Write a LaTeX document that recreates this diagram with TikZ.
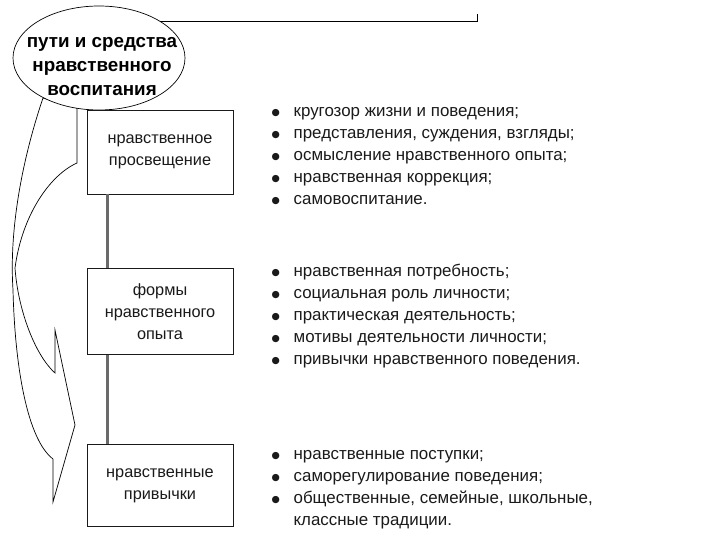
\documentclass[tikz,border=0pt]{standalone}
\usepackage{fontspec}
\setmainfont{Liberation Sans}
\newfontfamily\dotfont{DejaVu Sans}
\usepackage{tikz}
\usetikzlibrary{positioning, shapes.geometric}
\definecolor{inkGrey}{HTML}{1A1A1A}
\definecolor{linkGrey}{HTML}{6A6A6A}
\newcommand{\bul}{\makebox[22pt][l]{\raisebox{1pt}{\dotfont\fontsize{9.5}{0}\selectfont ●}}}

\begin{document}
\begin{tikzpicture}[x=1pt, y=-1pt,
  box/.style={draw=inkGrey, line width=0.9pt, fill=white, inner sep=0pt,
    minimum width=146pt, minimum height=84pt, align=center,
    font=\fontsize{16.3}{22}\selectfont, text=inkGrey},
  goal/.style={ellipse, draw=black, line width=0.7pt, fill=white,
    minimum width=172pt, minimum height=104pt, inner sep=0pt},
  title/.style={align=center, inner sep=0pt,
    font=\fontsize{18.8}{24}\selectfont\bfseries, text=black},
  items/.style={align=left, inner sep=0pt, yshift=-4pt,
    font=\fontsize{16.9}{22}\selectfont, text=inkGrey},
  link/.style={draw=linkGrey, line width=3pt},
  ribbon/.style={draw=black, line width=0.7pt, fill=white, line join=miter}]

\useasboundingbox (0,0) rectangle (720,540);

\draw[ribbon] (43,98) .. controls (22,160) and (9,230) .. (13,290)
  .. controls (15,370) and (28,440) .. (53,459) -- (53,502) -- (75,425)
  -- (55,330) -- (55,373) .. controls (35,355) and (18,310) .. (15,268)
  .. controls (22,215) and (50,175) .. (77,163) -- (77,108) -- cycle;

\node[goal] (ways) at (99,58) {};
\node[title] (waysText) at ([xshift=3pt, yshift=-9pt]ways.center)
  {пути и средства\\нравственного\\воспитания};

\coordinate (brk) at (477,14);
\draw[line width=0.7pt] (ways.north east) -- (ways.north east -| brk) -- (brk);

\node[box] (prosv) at (160,152) {нравственное\\просвещение};
\node[box, below=74pt of prosv, minimum height=86pt] (opyt)
  {формы\\нравственного\\опыта};
\node[box, below=89pt of opyt, minimum height=82pt] (privy)
  {нравственные\\привычки};

\draw[link] ([xshift=20.5pt]prosv.south west) -- ([xshift=20.5pt]opyt.north west);
\draw[link] ([xshift=20.5pt]opyt.south west) -- ([xshift=20.5pt]privy.north west);

\node[items, right=38pt of prosv] (prosvList)
  {\bul кругозор жизни и поведения;\\
   \bul представления, суждения, взгляды;\\
   \bul осмысление нравственного опыта;\\
   \bul нравственная коррекция;\\
   \bul самовоспитание.};
\node[items, right=38pt of opyt] (opytList)
  {\bul нравственная потребность;\\
   \bul социальная роль личности;\\
   \bul практическая деятельность;\\
   \bul мотивы деятельности личности;\\
   \bul привычки нравственного поведения.};
\node[items, right=38pt of privy] (privyList)
  {\bul нравственные поступки;\\
   \bul саморегулирование поведения;\\
   \bul общественные, семейные, школьные,\\
   \hspace*{22pt}классные традиции.};

\end{tikzpicture}
\end{document}
